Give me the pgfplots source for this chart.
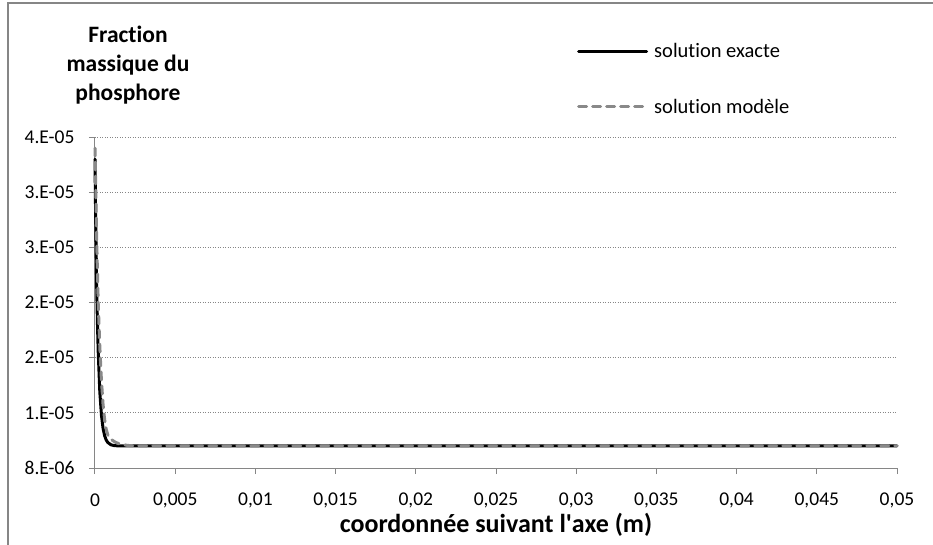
\documentclass[border=0pt]{standalone}
\usepackage{pgfplots}
\pgfplotsset{compat=1.18}
\usepackage{fontspec}
\setmainfont{Carlito}[Ligatures={TeX,CommonOff}]
\definecolor{axgray}{RGB}{134,134,134}
\definecolor{modgray}{RGB}{137,137,137}

\begin{document}
\begin{tikzpicture}
% frame of the chart area (only its top and left edges show in the picture)
\useasboundingbox (-95pt,-76pt) rectangle (838pt,468pt);
\draw[axgray, line width=2pt] (-87pt,-80pt) -- (-87pt,465pt) -- (842pt,465pt);

\begin{axis}[
  at={(0pt,0pt)}, anchor=origin,
  scale only axis,
  width=802pt, height=331pt,
  xmin=0, xmax=0.05,
  ymin=8e-6, ymax=3.8e-5,
  axis lines*=left,
  axis line style={axgray, line width=1pt},
  xtick={0,0.005,0.01,0.015,0.02,0.025,0.03,0.035,0.04,0.045,0.05},
  xticklabels={0,{0,005},{0,01},{0,015},{0,02},{0,025},{0,03},{0,035},{0,04},{0,045},{0,05}},
  ytick={8e-6,1.3e-5,1.8e-5,2.3e-5,2.8e-5,3.3e-5,3.8e-5},
  yticklabels={8.E-06,1.E-05,2.E-05,2.E-05,3.E-05,3.E-05,4.E-05},
  scaled ticks=false,
  tick align=outside,
  major tick length=6pt,
  tick style={axgray, line width=1pt},
  ymajorgrids,
  grid style={axgray, line width=0.8pt, dash pattern=on 1pt off 1.5pt},
  /pgf/number format/assume math mode=true,
  ticklabel style={font=\fontsize{19.5}{22}\selectfont, text=black},
  xticklabel style={anchor=center, yshift=-26pt},
  yticklabel style={xshift=-11pt},
  xlabel={coordonnée suivant l\textquotesingle axe (m)},
  xlabel style={font=\fontsize{26}{30}\selectfont\bfseries, anchor=center, at={(axis description cs:0.5,-0.172)}},
  clip=false,
  legend style={at={(axis description cs:0.601,1.29)}, anchor=north west, draw=none, fill=none,
    font=\fontsize{20.5}{24}\selectfont, row sep=36pt, inner sep=0pt},
  legend cell align=left,
  legend image code/.code={\draw[#1, line width=3pt] (0pt,0pt) -- (68pt,0pt); \path (72pt,0pt);},
]

\addplot[black, line width=3pt, line cap=round] coordinates {
  (0, 3.60e-5)
  (0.00002, 3.327e-5)
  (0.00005, 2.969e-5)
  (0.0001, 2.491e-5)
  (0.00015, 2.130e-5)
  (0.0002, 1.856e-5)
  (0.0003, 1.491e-5)
  (0.0004, 1.282e-5)
  (0.0005, 1.162e-5)
  (0.0006, 1.093e-5)
  (0.0007, 1.053e-5)
  (0.0008, 1.031e-5)
  (0.001, 1.010e-5)
  (0.0012, 1.003e-5)
  (0.0015, 1.0e-5)
  (0.01, 1.0e-5)
  (0.02, 1.0e-5)
  (0.03, 1.0e-5)
  (0.04, 1.0e-5)
  (0.05, 1.0e-5)
};
\addlegendentry{solution exacte}

\addplot[modgray, line width=3pt, line cap=round, dash pattern=on 8pt off 6pt] coordinates {
  (0, 3.70e-5)
  (0.00005, 3.30e-5)
  (0.0001, 2.90e-5)
  (0.0002, 2.30e-5)
  (0.0003, 1.90e-5)
  (0.0004, 1.60e-5)
  (0.0005, 1.38e-5)
  (0.0006, 1.24e-5)
  (0.0007, 1.15e-5)
  (0.0008, 1.10e-5)
  (0.001, 1.06e-5)
  (0.00125, 1.035e-5)
  (0.0015, 1.02e-5)
  (0.002, 1.005e-5)
  (0.0025, 1.0e-5)
  (0.01, 1.0e-5)
  (0.02, 1.0e-5)
  (0.03, 1.0e-5)
  (0.04, 1.0e-5)
  (0.05, 1.0e-5)
};
\addlegendentry{solution modèle}

\end{axis}

\node[align=center, font=\fontsize{23.5}{29}\selectfont\bfseries, anchor=center] at (33pt,403pt)
  {Fraction\\massique du\\phosphore};
\end{tikzpicture}
\end{document}
